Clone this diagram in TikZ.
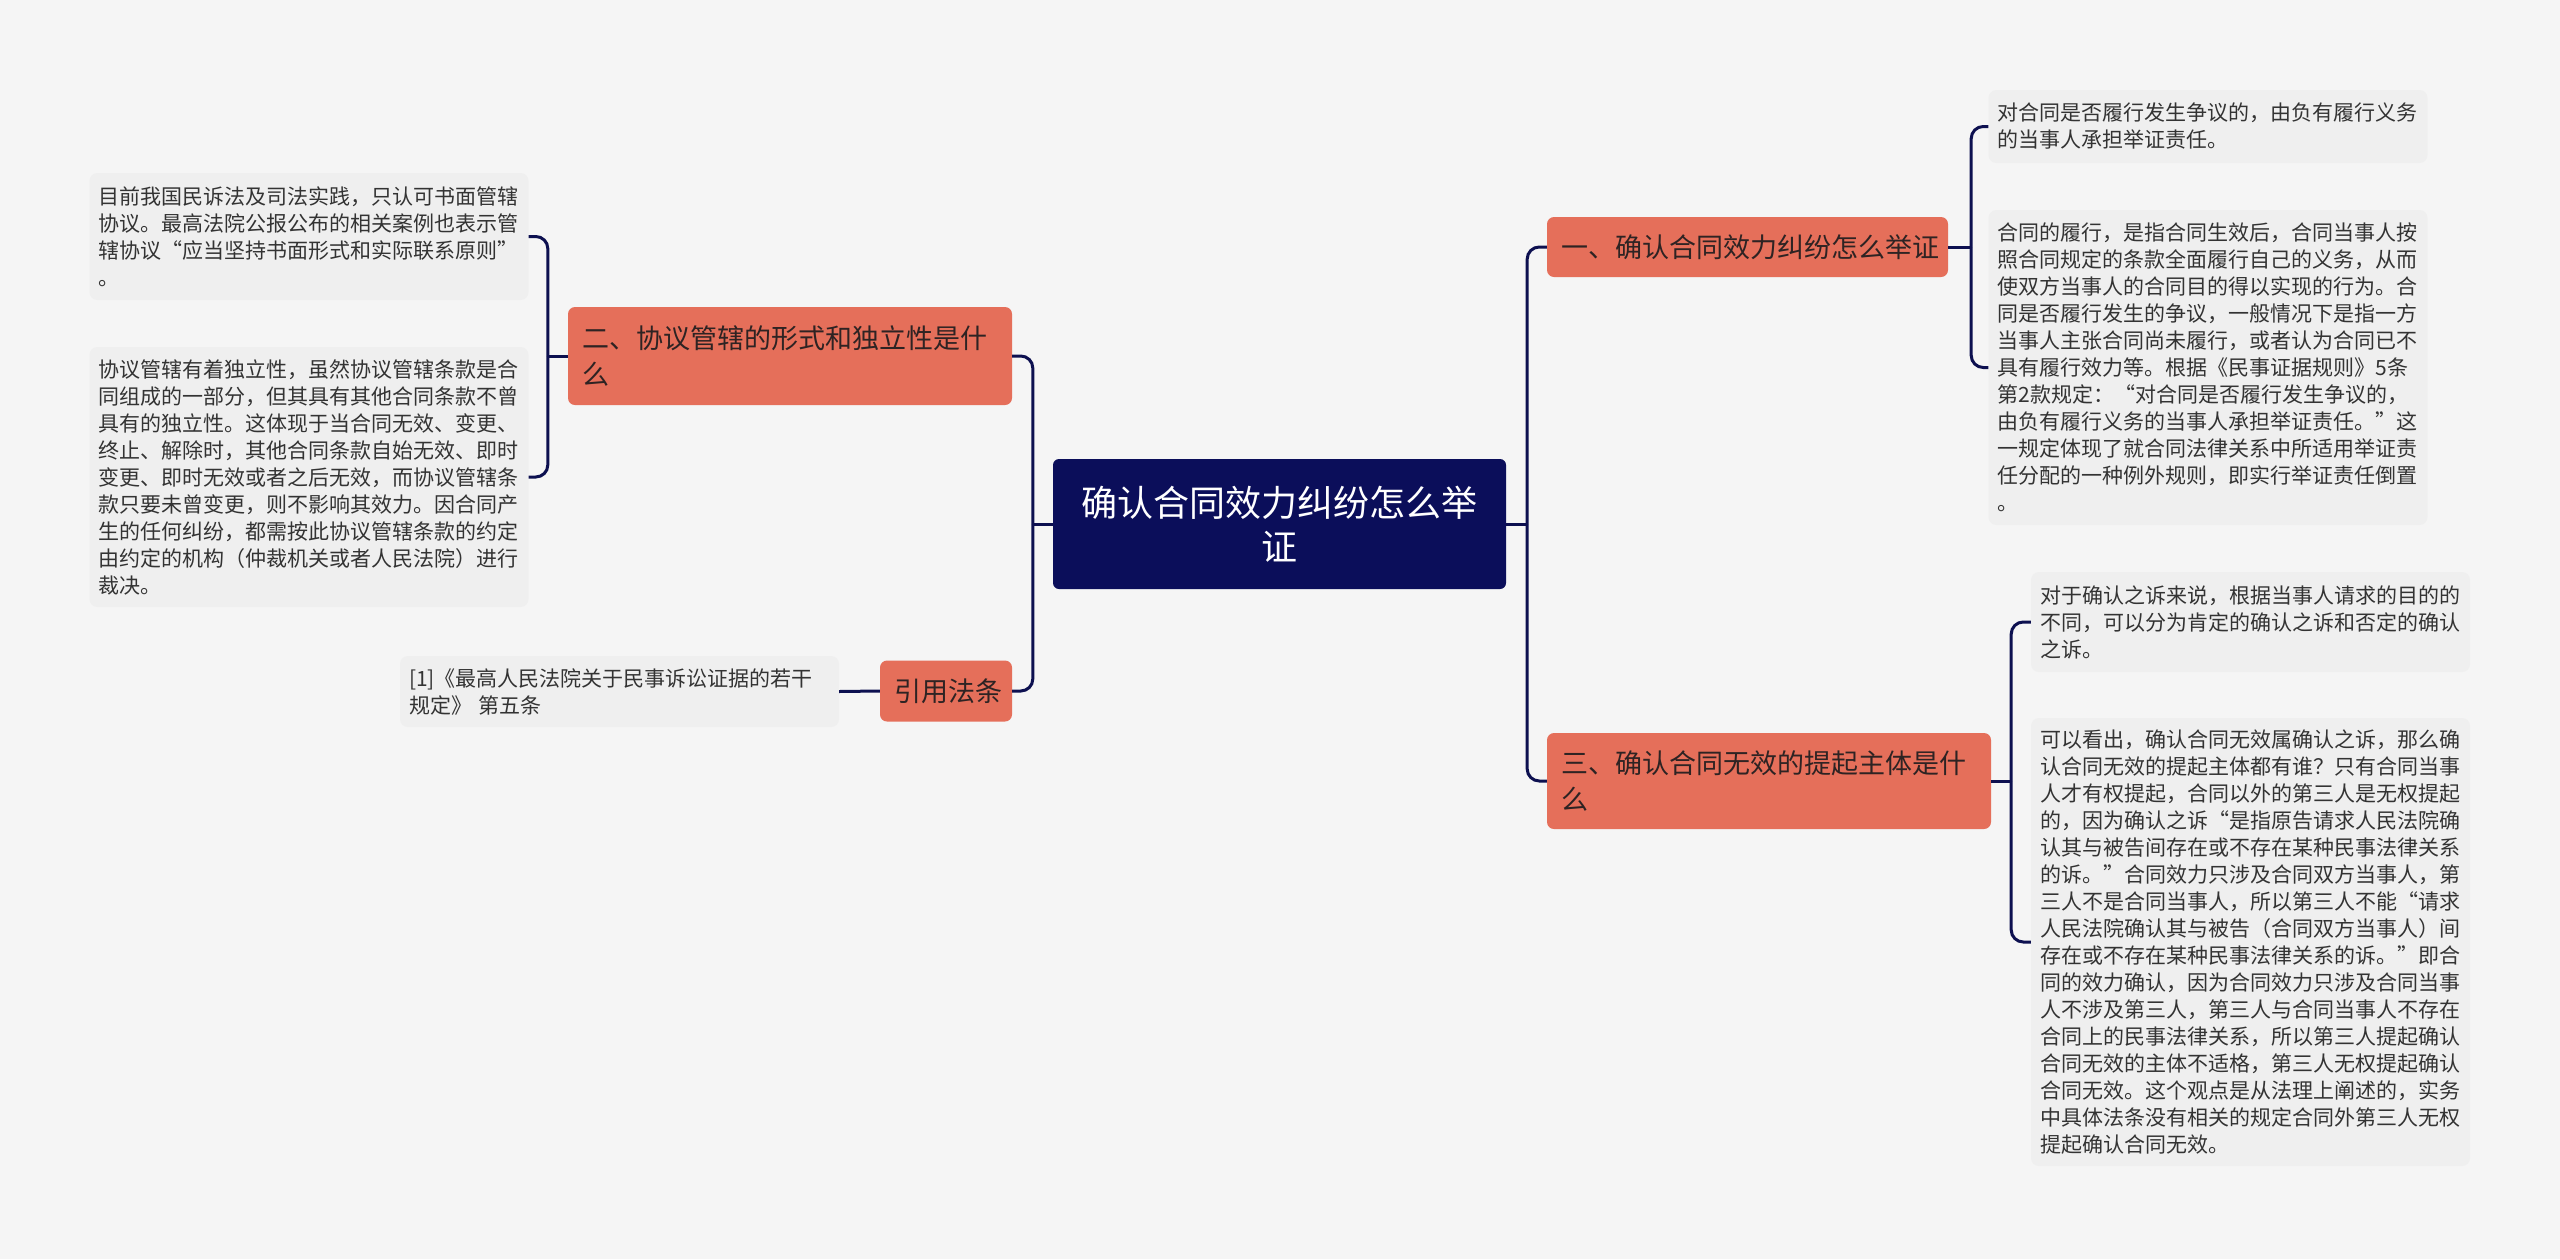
\documentclass[tikz,border=0pt]{standalone}
\usepackage{fontspec}
\setmainfont{Noto Sans CJK SC}
\usepackage{tikz}
\usetikzlibrary{positioning}
\definecolor{mapnavy}{HTML}{0B0E5A}
\definecolor{mapline}{HTML}{0D1050}
\definecolor{mapsalmon}{HTML}{E56F5A}
\definecolor{mapleaf}{HTML}{EFEFEF}
\definecolor{mapbg}{HTML}{F5F5F5}
\definecolor{maptext}{HTML}{333333}
\definecolor{mapdark}{HTML}{2E2323}

\begin{document}
\begin{tikzpicture}[
    x=1pt, y=-1pt,
    topic/.style={fill=mapnavy, draw=none, rounded corners=6pt, text=white,
                  align=center, text width=400pt, minimum width=453pt,
                  minimum height=130pt, inner sep=0pt,
                  font=\fontsize{36}{44}\selectfont},
    branch/.style={fill=mapsalmon, draw=none, rounded corners=7pt, text=mapdark,
                   align=left, inner xsep=14pt, inner ysep=0pt,
                   font=\fontsize{27}{36}\selectfont},
    leaf/.style={fill=mapleaf, draw=none, rounded corners=8pt, text=maptext,
                 align=left, text width=421pt, inner xsep=9pt, inner ysep=0pt,
                 font=\fontsize{21}{27}\selectfont},
    link/.style={draw=mapline, line width=3pt, rounded corners=12pt}
]
\useasboundingbox (0,0) rectangle (2560,1259);
\fill[mapbg] (0,0) rectangle (2560,1259);

% centre and main branches
\node[topic] (ctopic) at (1279.5,524) {确认合同效力纠纷怎么举\\证};
\node[branch, text width=416pt, minimum height=98pt] (form) at (790,356)
    {二、协议管辖的形式和独立性是什\\么};
\node[branch, text width=104pt, minimum height=61pt] (cite) at (946,691) {引用法条};
\node[branch, text width=373pt, minimum height=60pt] (proof) at (1747.5,247)
    {一、确认合同效力纠纷怎么举证};
\node[branch, text width=416pt, minimum height=96pt] (subject) at (1769,781)
    {三、确认合同无效的提起主体是什\\么};

% leaves on the left
\node[leaf, minimum height=127pt] (formA) at (309,236.5)
    {目前我国民诉法及司法实践，只认可书面管辖\\
     协议。最高法院公报公布的相关案例也表示管\\
     辖协议“应当坚持书面形式和实际联系原则”\\
     。};
\node[leaf, minimum height=260pt] (formB) at (309,477)
    {协议管辖有着独立性，虽然协议管辖条款是合\\
     同组成的一部分，但其具有其他合同条款不曾\\
     具有的独立性。这体现于当合同无效、变更、\\
     终止、解除时，其他合同条款自始无效、即时\\
     变更、即时无效或者之后无效，而协议管辖条\\
     款只要未曾变更，则不影响其效力。因合同产\\
     生的任何纠纷，都需按此协议管辖条款的约定\\
     由约定的机构（仲裁机关或者人民法院）进行\\
     裁决。};
\node[leaf, minimum height=71pt] (citeA) at (619.5,691.5)
    {[1]《最高人民法院关于民事诉讼证据的若干\\
     规定》 第五条};

% leaves on the right
\node[leaf, minimum height=73pt] (proofA) at (2208,126.5)
    {对合同是否履行发生争议的，由负有履行义务\\
     的当事人承担举证责任。};
\node[leaf, minimum height=315pt] (proofB) at (2208,367.5)
    {合同的履行，是指合同生效后，合同当事人按\\
     照合同规定的条款全面履行自己的义务，从而\\
     使双方当事人的合同目的得以实现的行为。合\\
     同是否履行发生的争议，一般情况下是指一方\\
     当事人主张合同尚未履行，或者认为合同已不\\
     具有履行效力等。根据《民事证据规则》5条\\
     第2款规定：“对合同是否履行发生争议的，\\
     由负有履行义务的当事人承担举证责任。”这\\
     一规定体现了就合同法律关系中所适用举证责\\
     任分配的一种例外规则，即实行举证责任倒置\\
     。};
\node[leaf, minimum height=100pt] (subjectA) at (2250.5,622)
    {对于确认之诉来说，根据当事人请求的目的的\\
     不同，可以分为肯定的确认之诉和否定的确认\\
     之诉。};
\node[leaf, minimum height=448pt] (subjectB) at (2250.5,942)
    {可以看出，确认合同无效属确认之诉，那么确\\
     认合同无效的提起主体都有谁？只有合同当事\\
     人才有权提起，合同以外的第三人是无权提起\\
     的，因为确认之诉“是指原告请求人民法院确\\
     认其与被告间存在或不存在某种民事法律关系\\
     的诉。”合同效力只涉及合同双方当事人，第\\
     三人不是合同当事人，所以第三人不能“请求\\
     人民法院确认其与被告（合同双方当事人）间\\
     存在或不存在某种民事法律关系的诉。”即合\\
     同的效力确认，因为合同效力只涉及合同当事\\
     人不涉及第三人，第三人与合同当事人不存在\\
     合同上的民事法律关系，所以第三人提起确认\\
     合同无效的主体不适格，第三人无权提起确认\\
     合同无效。这个观点是从法理上阐述的，实务\\
     中具体法条没有相关的规定合同外第三人无权\\
     提起确认合同无效。};

% junction points
\path (ctopic.west) ++(-20,0) coordinate (jleft);
\path (ctopic.east) ++(21,0) coordinate (jright);
\path (form.west) ++(-20,0) coordinate (jform);
\path (proof.east) ++(23,0) coordinate (jproof);
\path (subject.east) ++(20,0) coordinate (jsubject);

% connectors
\draw[link] (ctopic.west) -- (jleft);
\draw[link] (jleft) |- (form.east);
\draw[link] (jleft) |- (cite.east);
\draw[link] (ctopic.east) -- (jright);
\draw[link] (jright) |- (proof.west);
\draw[link] (jright) |- (subject.west);
\draw[link] (form.west) -- (jform);
\draw[link] (jform) |- (formA.east);
\draw[link] (jform) |- (formB.east);
\draw[link] (cite.west) -- (citeA.east);
\draw[link] (proof.east) -- (jproof);
\draw[link] (jproof) |- (proofA.west);
\draw[link] (jproof) |- (proofB.west);
\draw[link] (subject.east) -- (jsubject);
\draw[link] (jsubject) |- (subjectA.west);
\draw[link] (jsubject) |- (subjectB.west);
\end{tikzpicture}
\end{document}
